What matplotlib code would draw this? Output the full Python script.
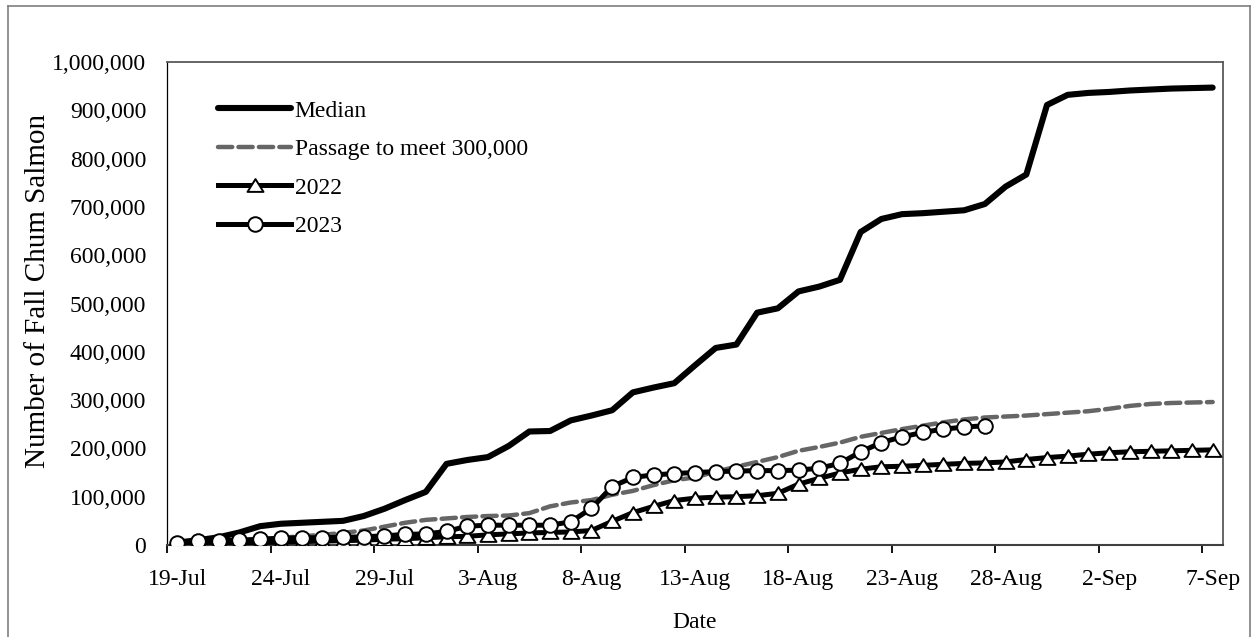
import matplotlib
matplotlib.use("Agg")
import matplotlib.pyplot as plt
import numpy as np
import pandas as pd
from matplotlib.path import Path
from matplotlib.lines import Line2D

plt.rcParams['font.family'] = ['Liberation Serif', 'DejaVu Serif']

# ---------------- data ----------------
dates = pd.date_range("2023-07-19", "2023-09-07", freq="D")
tick_labels = ["19-Jul", "24-Jul", "29-Jul", "3-Aug", "8-Aug", "13-Aug",
               "18-Aug", "23-Aug", "28-Aug", "2-Sep", "7-Sep"]

median = [5000, 10000, 16000, 26000, 39000, 44000, 46000, 48000, 50000, 60000,
          75000, 93000, 110000, 168000, 176000, 182000, 205000, 235000, 236000, 258000,
          268000, 279000, 316000, 326000, 335000, 372000, 408000, 415000, 481000, 490000,
          525000, 535000, 549000, 648000, 675000, 685000, 687000, 690000, 693000, 706000,
          742000, 767000, 911000, 932000, 936000, 938000, 941000, 943000, 945000, 946000,
          947000]

passage = [2000, 4000, 6000, 9000, 12000, 15000, 18000, 21000, 25000, 30000,
           38000, 46000, 52000, 55000, 58000, 60000, 61000, 66000, 80000, 88000,
           93000, 104000, 112000, 124000, 134000, 140000, 152000, 162000, 172000, 182000,
           195000, 203000, 212000, 224000, 232000, 240000, 247000, 254000, 260000, 264000,
           266000, 268000, 271000, 274000, 277000, 282000, 288000, 292000, 294000, 295000,
           296000]

y2022 = [1000, 2000, 3000, 4000, 5000, 6000, 7000, 8000, 9000, 10000,
         12000, 13000, 15000, 17000, 18000, 21000, 23000, 25000, 26000, 27000,
         30000, 49000, 67000, 80000, 92000, 97000, 99000, 100000, 102000, 107000,
         126000, 138000, 149000, 157000, 162000, 163000, 165000, 167000, 169000, 170000,
         172000, 177000, 181000, 184000, 188000, 191000, 193000, 194000, 195000, 196000,
         197000]

y2023 = [5000, 9000, 9000, 10000, 12000, 14000, 15000, 15000, 16000, 17000,
         19000, 22000, 23000, 28000, 39000, 41000, 41000, 41000, 41000, 48000,
         76000, 121000, 140000, 145000, 148000, 150000, 152000, 153000, 154000, 154000,
         155000, 159000, 169000, 193000, 212000, 224000, 233000, 240000, 244000, 247000]

series_names = ["Median", "Passage to meet 300,000", "2022", "2023"]

# ---------------- figure ----------------
W, H = 1257, 637
fig = plt.figure(figsize=(W / 100, H / 100), dpi=100)

# outer chart-area border
border_col = "#7f7f7f"
fig.add_artist(Line2D([8 / W, 8 / W], [1 - 6 / H, -0.01], transform=fig.transFigure,
                      color=border_col, lw=1.2))
fig.add_artist(Line2D([8 / W, 1250 / W], [1 - 6 / H, 1 - 6 / H], transform=fig.transFigure,
                      color=border_col, lw=1.2))
fig.add_artist(Line2D([1250 / W, 1250 / W], [1 - 6 / H, -0.01], transform=fig.transFigure,
                      color=border_col, lw=1.2))

L, R, T, B = 167, 1223, 62, 545
ax = fig.add_axes([L / W, (H - B) / H, (R - L) / W, (B - T) / H])

x = np.arange(len(dates))
x23 = np.arange(len(y2023))

tri = Path([(0, 0.8), (-1, -0.8), (1, -0.8), (0, 0.8)],
           [Path.MOVETO, Path.LINETO, Path.LINETO, Path.CLOSEPOLY])

ax.plot(x, median, color="black", lw=4.4, solid_joinstyle="round",
        solid_capstyle="round", label=series_names[0], zorder=3)
ax.plot(x, passage, color="#666666", lw=3.2, dashes=(3.2, 1.4),
        dash_capstyle="round", label=series_names[1], zorder=2)
ax.plot(x, y2022, color="black", lw=3.6, marker=tri, markersize=11.5,
        markerfacecolor="white", markeredgecolor="black", markeredgewidth=1.4,
        solid_joinstyle="round", label=series_names[2], zorder=4)
ax.plot(x23, y2023, color="black", lw=3.6, marker="o", markersize=10.5,
        markerfacecolor="white", markeredgecolor="black", markeredgewidth=1.4,
        solid_joinstyle="round", label=series_names[3], zorder=5)

ax.set_xlim(-0.5, len(dates) - 0.5)
ax.set_ylim(0, 1000000)
ax.set_yticks(np.arange(0, 1000001, 100000))
ax.yaxis.set_major_formatter(matplotlib.ticker.FuncFormatter(lambda v, p: f"{int(v):,}"))

label_pos = np.arange(0, len(dates), 5)
ax.set_xticks(label_pos)
ax.set_xticklabels(tick_labels)
ax.set_xticks(np.arange(-0.5, len(dates), 5), minor=True)
ax.tick_params(axis="x", which="major", length=0, pad=17, labelsize=17)
ax.tick_params(axis="x", which="minor", length=6, width=1.3, direction="out", color="black")
ax.tick_params(axis="y", length=0, pad=15, labelsize=17)

for s in ["top", "right"]:
    ax.spines[s].set_color("#595959")
    ax.spines[s].set_linewidth(1.3)
ax.spines["left"].set_color("black")
ax.spines["left"].set_linewidth(0.9)
ax.spines["bottom"].set_color("#404040")
ax.spines["bottom"].set_linewidth(1.5)

ax.set_ylabel("Number of Fall Chum Salmon", fontsize=21)
ax.yaxis.set_label_coords((51 - L) / (R - L), 1 - (291 - T) / (B - T))
ax.set_xlabel("Date", fontsize=17, labelpad=16)

leg = ax.legend(loc="upper left", bbox_to_anchor=((218 - L) / (R - L), 1 - (100 - T) / (B - T)),
                frameon=False, fontsize=17, handlelength=3.1, handletextpad=0.15,
                labelspacing=0.72, borderaxespad=0, borderpad=0, numpoints=1)

fig.savefig("out.png", dpi=100)
